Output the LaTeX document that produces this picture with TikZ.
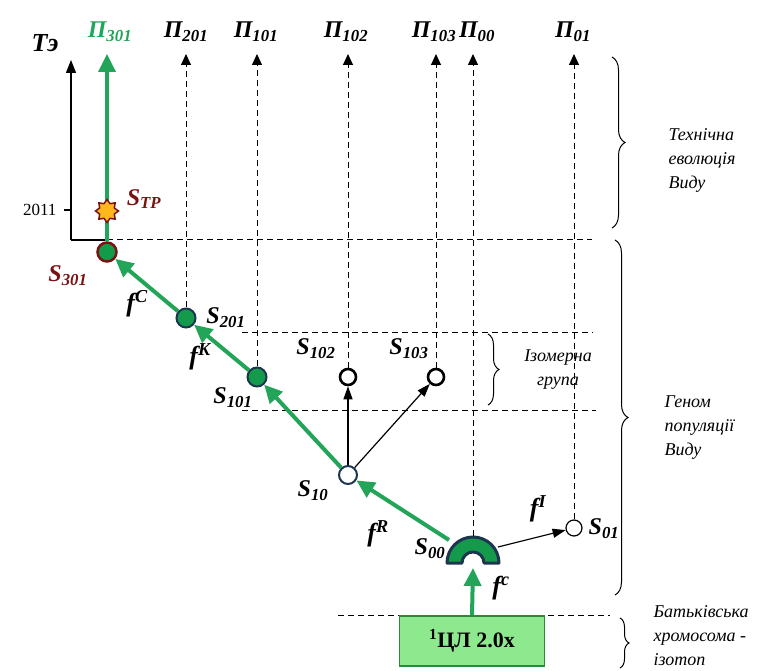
\documentclass[tikz,border=0pt]{standalone}
\usepackage{fontspec}
\setmainfont{Liberation Serif}
\usetikzlibrary{arrows.meta,shapes.geometric,decorations.pathreplacing}
\definecolor{gr}{HTML}{22A558}
\definecolor{dotg}{HTML}{139A4A}
\definecolor{dred}{HTML}{7A1212}
\definecolor{navy}{HTML}{1E3550}
\definecolor{boxg}{HTML}{8EE88E}
\definecolor{boxd}{HTML}{2A8A3A}
\definecolor{starf}{HTML}{FFB81C}
\newcommand\Lb[2]{#1\textsubscript{#2}}
\tikzset{
  slab/.style={font=\fontsize{24}{24}\selectfont\bfseries\itshape},
  plab/.style={font=\fontsize{24}{24}\selectfont\bfseries\itshape},
  flab/.style={font=\fontsize{26}{26}\selectfont\bfseries\itshape},
  rlab/.style={font=\fontsize{18}{24}\selectfont\itshape, align=left, anchor=west},
  dline/.style={line width=1pt, dash pattern=on 6pt off 4pt},
  darrow/.style={dline, -{Triangle[length=11pt 0, width=10pt 0]}},
  barrow/.style={black, line width=1.2pt, -{Triangle[length=13pt 0, width=9pt 0]}},
  garrow/.style={draw=gr, line width=4pt, -{Triangle[length=18pt 0, width=17pt 0]}},
  gdot/.style={circle, fill=dotg, draw=navy, line width=2pt, minimum size=19pt, inner sep=0pt},
  odot/.style={circle, fill=white, draw=black, line width=2.6pt, minimum size=16pt, inner sep=0pt},
  brc/.style={decorate, decoration={brace, amplitude=13pt}, line width=1pt},
}
\begin{document}
\begin{tikzpicture}[x=1pt,y=-1pt]
\useasboundingbox (0,0) rectangle (772,671);
% column tops
\foreach \n/\x in {p301/107, p201/186, p101/257, p102/348, p103/436, p00/473, p01/574}
  \coordinate (\n t) at (\x,54);
% labels of columns
\node[plab, text=gr] (lp301) at (110,32) {\Lb{П}{301}};
\node[plab] (lp201) at (186,32) {\Lb{П}{201}};
\node[plab] (lp101) at (256,32) {\Lb{П}{101}};
\node[plab] (lp102) at (346,32) {\Lb{П}{102}};
\node[plab] (lp103) at (434,32) {\Lb{П}{103}};
\node[plab] (lp00) at (477,32) {\Lb{П}{00}};
\node[plab] (lp01) at (573,32) {\Lb{П}{01}};
% time axis
\coordinate (ax0) at (71,240);
\coordinate (axt) at (71,60);
\coordinate (c107) at (107,240);
\coordinate (hr) at (592,240);
\draw[line width=1.2pt, -{Triangle[length=13pt 0, width=10pt 0]}] (ax0) -- (axt);
\node[font=\fontsize{26}{26}\selectfont\bfseries\itshape] (te) at (45,43) {Tэ};
\coordinate (tk1) at (64,210);
\coordinate (tk2) at (71,210);
\draw[line width=2pt] (tk1) -- (tk2);
\node[font=\fontsize{17}{17}\selectfont, anchor=east] (y2011) at (60,210) {2011};
\draw[line width=1.2pt] (ax0) -- (c107);
\draw[dline] (c107) -- (hr);
% other horizontal dashed lines
\coordinate (h1a) at (242,333); \coordinate (h1b) at (593,333);
\coordinate (h2a) at (242,410); \coordinate (h2b) at (596,410);
\coordinate (h3a) at (338,615); \coordinate (h3b) at (610,615);
\draw[dline] (h1a) -- (h1b);
\draw[dline] (h2a) -- (h2b);
\draw[dline] (h3a) -- (h3b);
% nodes
\node[gdot, draw=dred, line width=2.5pt] (s301) at (107,252) {};
\node[gdot] (s201) at (186,318) {};
\node[gdot] (s101) at (257,377) {};
\node[odot] (s102) at (348,377) {};
\node[odot] (s103) at (436,377) {};
\node[odot, draw=navy, line width=2pt, minimum size=18pt] (s10) at (348,475) {};
\node[odot, line width=1.2pt, minimum size=16pt] (s01) at (574,528) {};
% arch S00
\fill[dotg] (447,563) arc[start angle=180, end angle=360, radius=26] -- (484,563) arc[start angle=0, end angle=-180, radius=11] -- cycle;
\draw[navy, line width=3pt, line join=round] (447,563) arc[start angle=180, end angle=360, radius=26] -- (484,563) arc[start angle=0, end angle=-180, radius=11] -- cycle;
\coordinate (s00top) at (473,536);
\coordinate (s00left) at (449,540);
\coordinate (s00right) at (498,547);
\coordinate (s00bot) at (473,568);
% vertical dashed arrows
\draw[darrow] (s201) -- (p201t);
\draw[darrow] (s101) -- (p101t);
\draw[darrow] (s102) -- (p102t);
\draw[darrow] (s103) -- (p103t);
\draw[darrow] (s00top) -- (p00t);
\draw[darrow] (s01) -- (p01t);
% green vertical
\draw[garrow, line width=3.5pt] (s301) -- (p301t);
\node[star, star points=8, star point ratio=1.45, minimum size=23pt, inner sep=0pt, fill=starf, draw=dred, line width=1.5pt] (stp) at (107,211) {};
% green path
\draw[garrow] (s00left) -- (s10);
\draw[garrow] (s10) -- (s101);
\draw[garrow] (s101) -- (s201);
\draw[garrow] (s201) -- (s301);
% black arrows
\draw[barrow] (s10) -- (s102);
\draw[barrow] (s10) -- (s103);
\draw[barrow] (s00right) -- (s01);
% box
\node[draw=boxd, fill=boxg, line width=1.5pt, minimum width=145pt, minimum height=50pt, font=\fontsize{22}{22}\selectfont\bfseries] (cl) at (472,641) {\textsuperscript{1}ЦЛ 2.0x};
\draw[garrow] (cl.north) -- (s00bot);
% S labels
\node[slab, text=dred] (lstp) at (144,199) {\Lb{S}{TP}};
\node[slab, text=dred] (ls301) at (68,276) {\Lb{S}{301}};
\node[slab] (ls201) at (226,318) {\Lb{S}{201}};
\node[slab] (ls101) at (233,398) {\Lb{S}{101}};
\node[slab] (ls102) at (316,349) {\Lb{S}{102}};
\node[slab] (ls103) at (409,349) {\Lb{S}{103}};
\node[slab] (ls10) at (313,491) {\Lb{S}{10}};
\node[slab] (ls00) at (430,549) {\Lb{S}{00}};
\node[slab] (ls01) at (604,529) {\Lb{S}{01}};
% f labels
\node[flab] (fc) at (137,304) {f\textsuperscript{C}};
\node[flab] (fk) at (200,357) {f\textsuperscript{K}};
\node[flab] (fr) at (378,534) {f\textsuperscript{R}};
\node[flab] (fi) at (538,509) {f\textsuperscript{I}};
\node[flab] (fcc) at (501,588) {f\textsuperscript{c}};
% braces
\coordinate (b1a) at (612,57); \coordinate (b1b) at (612,228);
\coordinate (b2a) at (615,240); \coordinate (b2b) at (615,595);
\coordinate (b3a) at (620,618); \coordinate (b3b) at (620,668);
\coordinate (b4a) at (488,334); \coordinate (b4b) at (488,405);
\draw[brc] (b1a) -- (b1b);
\draw[brc] (b2a) -- (b2b);
\draw[brc, decoration={brace, amplitude=9pt}] (b3a) -- (b3b);
\draw[brc, decoration={brace, amplitude=11pt}] (b4a) -- (b4b);
\node[rlab] (t1) at (665,160) {Технічна\\еволюція\\Виду};
\node[rlab] (t2) at (661,428) {Геном\\популяції\\Виду};
\node[rlab] (t3) at (650,636) {Батьківська\\хромосома -\\ізотоп};
\node[rlab, align=center, anchor=center] (t4) at (558,370) {Ізомерна\\група};
\end{tikzpicture}
\end{document}
